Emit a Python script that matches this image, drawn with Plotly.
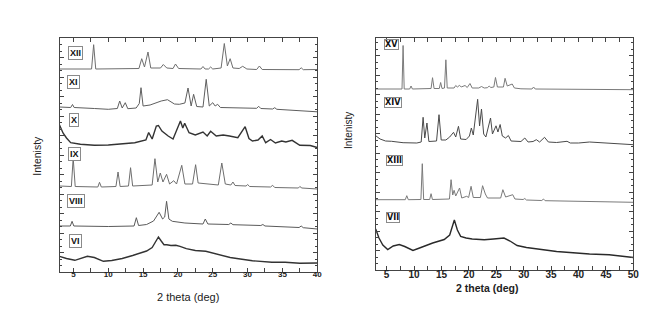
import plotly.graph_objects as go

# ---------------- data (2theta in deg, stacked intensity in a.u.) ----------------
# Left panel
xii_x = [3.0, 7.6, 7.9, 8.2, 14.4, 14.8, 15.2, 15.7, 16.1, 17.5, 17.9, 18.4, 19.3, 19.65, 20.1, 23.3, 23.6, 23.9,
         24.4, 24.7, 25.0, 26.2, 26.66, 27.1, 27.5, 27.9, 28.8, 29.3, 29.9, 31.3, 31.7, 32.1, 37.4, 37.7, 38.0, 40.0]
xii_y = [203, 203, 227.3, 203, 203.5, 213.3, 205, 220, 204, 204, 207.5, 204, 203.5, 208, 203.5, 203, 205.5, 203,
         203, 205, 203, 204, 228.5, 206, 213.3, 204, 203.5, 205.7, 203, 202.5, 206, 202.5, 202.3, 204.2, 202.3, 202.5]

xi_x = [3.0, 4.6, 4.86, 5.1, 8.0, 10.0, 11.3, 11.64, 12.0, 12.44, 12.8, 14.0, 14.45, 14.7, 15.0, 16.0, 17.0, 17.6,
        18.5, 19.5, 20.2, 21.0, 21.45, 21.9, 22.25, 22.7, 23.6, 24.06, 24.5, 25.0, 25.35, 25.7, 26.1, 28.0, 31.3,
        31.6, 31.9, 33.6, 33.9, 34.2, 37.0, 40.0]
xi_y = [165, 164.5, 167.5, 164.5, 163.5, 162.7, 163.5, 171, 164, 169.3, 163.3, 164, 168.5, 184.3, 166, 167, 169.5, 171,
        172.3, 168, 167.7, 169, 184, 166, 177.7, 165.5, 165, 192.7, 166, 169.3, 166, 167.7, 164.5, 164.2, 163.7,
        165.7, 163.5, 163, 164.3, 162.7, 161.5, 160.2]

x_x = [3.0, 3.5, 4.0, 4.6, 6.0, 8.0, 10.0, 12.0, 13.8, 15.4, 15.8, 16.3, 16.9, 17.2, 17.7, 18.6, 19.3, 20.36, 20.7,
       20.97, 21.6, 22.5, 23.6, 24.2, 24.7, 25.5, 26.5, 27.4, 28.6, 29.65, 30.2, 30.7, 31.5, 32.1, 32.6, 33.3, 34.0,
       34.9, 35.5, 36.4, 37.5, 39.0, 40.0]
x_y = [147, 139, 134, 129.3, 127.7, 126.7, 127, 128.5, 129.3, 132, 139.5, 133, 146, 146.5, 141, 136, 133, 151, 144,
       148.7, 139.3, 137, 140, 136, 140.7, 136, 137, 136, 134.3, 145.3, 133.5, 131, 132, 136, 129.3, 132.5, 129,
       131, 130, 131.7, 126.7, 126.5, 124.5]

ix_x = [3.0, 4.7, 4.96, 5.25, 8.5, 8.74, 9.0, 11.1, 11.4, 11.7, 12.9, 13.2, 13.5, 16.3, 16.7, 17.1, 17.47, 17.85,
        18.37, 18.8, 19.4, 19.8, 20.55, 21.0, 22.1, 22.54, 22.9, 25.8, 26.3, 26.8, 27.6, 27.9, 28.2, 29.8, 30.0,
        30.3, 33.3, 33.6, 33.9, 37.3, 37.5, 37.8, 40.0]
ix_y = [86, 85.5, 114, 85.5, 85, 89.7, 85, 85.5, 100, 85.5, 86, 104.3, 86, 87, 113.3, 90, 99, 90,
        97.7, 88, 91.3, 88, 106.7, 88, 88, 107.3, 89, 87, 109, 88, 87, 90, 86.5, 86, 87.5,
        85.5, 85, 86.7, 84.5, 84, 85.5, 84, 83]

viii_x = [3.0, 4.55, 4.8, 5.05, 10.0, 13.7, 14.03, 14.35, 15.5, 16.5, 17.3, 17.8, 18.1, 18.37, 18.7, 19.2, 21.0,
          23.6, 23.93, 24.3, 27.3, 27.6, 27.9, 31.9, 32.2, 32.5, 37.4, 37.7, 38.0, 40.0]
viii_y = [46, 46, 50.7, 46, 45.5, 46, 54.3, 46.5, 47.5, 51, 59.7, 53, 55, 70.7, 53, 50.7, 49,
          48, 53, 48, 47.5, 49, 47.3, 46.5, 47.5, 46, 44.5, 46, 44.3, 43]

vi_x = [3.0, 4.0, 5.2, 6.0, 7.0, 8.0, 9.3, 10.5, 12.0, 13.5, 14.6, 15.5, 16.3, 16.8, 17.2, 17.6, 18.0, 18.4, 19.0,
        19.7, 20.3, 21.2, 22.5, 24.0, 25.9, 27.5, 28.7, 30.7, 33.5, 35.4, 37.5, 40.0]
vi_y = [15.7, 13.5, 11.7, 13.5, 15.7, 14.5, 10.7, 11.5, 13.5, 16.5, 19, 21, 24.5, 30, 35, 31, 27.3, 27.3, 26.5,
        26.7, 25.7, 23.3, 21.5, 20.7, 17.3, 14.5, 13.3, 11.3, 9.7, 9.7, 8.7, 9]

# Right panel
xv_x = [3.0, 7.8, 8.0, 8.2, 9.2, 9.45, 9.7, 13.1, 13.37, 13.65, 14.6, 14.85, 15.1, 15.55, 15.8, 16.05, 17.3, 17.6,
        17.9, 18.3, 18.6, 19.0, 19.3, 19.7, 20.2, 20.6, 21.8, 22.3, 22.8, 23.4, 23.7, 24.0, 24.55, 24.85, 25.2,
        26.3, 26.6, 27.0, 27.9, 28.3, 29.5, 31.5, 31.8, 32.1, 40.0, 50.0]
xv_y = [181, 181, 224.5, 181, 181, 184, 181, 181.5, 192.3, 181.5, 181.5, 187.5, 181.5, 182, 210.2, 182, 182, 184.5,
        183, 184.7, 183, 183.5, 184.5, 182.5, 186.5, 182, 182, 183.5, 182, 182.3, 184, 182.5, 183, 192.5, 183,
        183, 191.7, 184, 186, 182, 181.2, 181, 183, 181, 180.8, 180.3]

xiv_x = [3.0, 3.8, 4.8, 5.9, 8.0, 10.5, 11.3, 11.65, 11.95, 12.35, 12.7, 14.1, 14.55, 14.95, 15.8, 16.5, 17.2, 17.6,
         18.1, 18.5, 19.5, 20.1, 20.45, 20.8, 21.6, 21.95, 22.3, 22.7, 23.1, 23.95, 24.3, 24.95, 25.3, 25.7, 26.1,
         26.7, 27.2, 27.7, 29.5, 30.2, 30.8, 31.7, 32.3, 32.9, 33.8, 34.5, 36.0, 37.9, 38.5, 40.0, 42.0, 43.5, 45.0,
         47.0, 49.0, 50.0]
xiv_y = [134.3, 131, 129, 128.7, 127.3, 127, 128, 152.7, 132, 147, 128.5, 129, 155.3, 130, 130, 133, 137.7, 133,
         143.7, 131, 130.5, 134, 142, 135, 170.7, 144, 161, 136, 133, 152, 136, 144.2, 138, 145.5, 134,
         132, 134.5, 129, 128.5, 132, 128, 128.5, 130.3, 128, 132.7, 128, 127.5, 128.7, 127, 127, 128, 127.5, 126.5,
         126, 125.5, 125.3]

xiii_x = [3.0, 8.4, 8.67, 8.95, 11.25, 11.5, 11.75, 12.85, 13.1, 13.35, 16.45, 16.75, 17.05, 17.3, 17.6, 18.3, 18.7,
          19.6, 19.95, 20.4, 20.8, 22.1, 22.5, 23.0, 23.4, 25.8, 26.2, 26.7, 28.0, 28.4, 29.9, 30.2, 30.5, 33.3,
          33.6, 33.9, 50.0]
xiii_y = [70.3, 70.3, 74.3, 70.3, 70.5, 106.3, 70.5, 70.5, 76.3, 70.5, 71, 90.3, 75, 79.7, 74, 82, 72,
          73.7, 72.5, 83.7, 72.5, 72.5, 84.3, 76, 72, 72, 80.3, 73, 75.3, 71, 70.5, 71.5, 70, 69.5,
          71, 69.3, 67.7]

vii_x = [3.0, 3.6, 4.3, 5.2, 6.2, 7.3, 8.3, 9.8, 11.0, 12.5, 13.4, 15.5, 16.5, 17.35, 17.9, 18.5, 19.5, 20.6, 22.8,
         24.5, 26.4, 27.5, 28.8, 30.5, 33.6, 36.0, 39.6, 42.0, 45.6, 48.0, 50.0]
vii_y = [41, 32, 25, 20.5, 24, 25.5, 23.5, 19.5, 22, 25.5, 27, 30.5, 35, 50, 40, 33.7, 32, 31, 30.3,
         31, 32, 29, 24.5, 22.5, 20.3, 18.5, 17, 16, 15.3, 14, 12.5]

left_labels = ["XII", "XI", "X", "IX", "VIII", "VI"]
right_labels = ["XV", "XIV", "XIII", "VII"]
left_ticks = [5, 10, 15, 20, 25, 30, 35, 40]
right_ticks = [5, 10, 15, 20, 25, 30, 35, 40, 45, 50]

# ---------------- figure ----------------
W, H = 671, 330


def px(x):
    return x / W


def py(y):
    return 1 - y / H


fig = go.Figure()

left_series = [(xii_x, xii_y, "#6e6e6e", 1.0), (xi_x, xi_y, "#5e5e5e", 1.0), (x_x, x_y, "#333333", 1.4),
               (ix_x, ix_y, "#6e6e6e", 1.0), (viii_x, viii_y, "#5a5a5a", 1.0), (vi_x, vi_y, "#333333", 1.4)]
for (xs, ys, c, w), name in zip(left_series, left_labels):
    fig.add_trace(go.Scatter(x=xs, y=ys, mode="lines", name=name, line=dict(color=c, width=w),
                             xaxis="x", yaxis="y", showlegend=False))

right_series = [(xv_x, xv_y, "#7a7a7a", 1.0), (xiv_x, xiv_y, "#4a4a4a", 1.0),
                (xiii_x, xiii_y, "#7a7a7a", 1.0), (vii_x, vii_y, "#2a2a2a", 1.4)]
for (xs, ys, c, w), name in zip(right_series, right_labels):
    fig.add_trace(go.Scatter(x=xs, y=ys, mode="lines", name=name, line=dict(color=c, width=w),
                             xaxis="x2", yaxis="y2", showlegend=False))

axis_common = dict(showline=True, linecolor="#444", linewidth=1, mirror="ticks", ticks="inside",
                   tickcolor="#444", showgrid=False, zeroline=False)

fig.update_layout(
    width=W, height=H, margin=dict(l=0, r=0, t=0, b=0),
    paper_bgcolor="white", plot_bgcolor="white",
    xaxis=dict(domain=[px(52), px(312)], range=[3, 40], tickvals=left_ticks, ticklen=4,
               ticklabelstandoff=-6,
               tickfont=dict(family="Liberation Sans", size=8, color="#222", weight="bold"),
               minor=dict(dtick=2.5, tick0=0, ticks="inside", ticklen=4, tickcolor="#444"),
               anchor="y", **axis_common),
    yaxis=dict(domain=[py(264), py(30)], range=[0, 234], showticklabels=False, dtick=19.5, tick0=0,
               ticklen=4, minor=dict(dtick=6.5, tick0=0, ticks="inside", ticklen=2, tickcolor="#444"),
               anchor="x", **axis_common),
    xaxis2=dict(domain=[px(371), px(631)], range=[3, 50], tickvals=right_ticks, ticklen=4,
                ticklabelstandoff=-5,
                tickfont=dict(family="Liberation Sans", size=10, color="#222", weight="bold"),
                minor=dict(dtick=2.5, tick0=0, ticks="inside", ticklen=4, tickcolor="#444"),
                anchor="y2", **axis_common),
    yaxis2=dict(domain=[py(262), py(30)], range=[0, 232], showticklabels=False, dtick=19.5, tick0=0,
                ticklen=4, minor=dict(dtick=6.5, tick0=0, ticks="inside", ticklen=2, tickcolor="#444"),
                anchor="x2", **axis_common),
)

base = dict(showarrow=False, xref="paper", yref="paper", xanchor="center", yanchor="middle")
ann = []
# axis titles
ann.append(dict(x=px(182), y=py(289), text="2 theta (deg)",
                font=dict(family="Liberation Sans", size=11, color="#222"), **base))
ann.append(dict(x=px(483), y=py(280), text="2 theta (deg)",
                font=dict(family="Liberation Sans", size=10.5, color="#222", weight="bold"), **base))
ann.append(dict(x=px(29), y=py(148), text="Intenisty", textangle=-90,
                font=dict(family="Liberation Sans", size=10.5, color="#222"), **base))
ann.append(dict(x=px(344), y=py(122), text="Intenisty", textangle=-90,
                font=dict(family="Liberation Sans Narrow, Liberation Sans", size=10, color="#222"), **base))

left_pos = [(68, 44.5), (66.5, 74), (67, 112), (67.5, 146), (68.5, 193), (68, 233)]
for lab, (lx, ly) in zip(left_labels, left_pos):
    ann.append(dict(x=px(lx), y=py(ly), text=lab,
                    font=dict(family="Liberation Sans", size=9, color="#111", weight="bold"),
                    bordercolor="#8a8a8a", borderwidth=1, borderpad=1, bgcolor="white", **base))
right_pos = [(387, 36), (388, 94), (390, 152), (388, 209.5)]
for lab, (lx, ly) in zip(right_labels, right_pos):
    ann.append(dict(x=px(lx), y=py(ly), text=lab,
                    font=dict(family="DejaVu Sans", size=8, color="#111", weight="bold"),
                    bordercolor="#8a8a8a", borderwidth=1, borderpad=0, bgcolor="white", **base))

fig.update_layout(annotations=ann)
fig.write_html("out.html")
